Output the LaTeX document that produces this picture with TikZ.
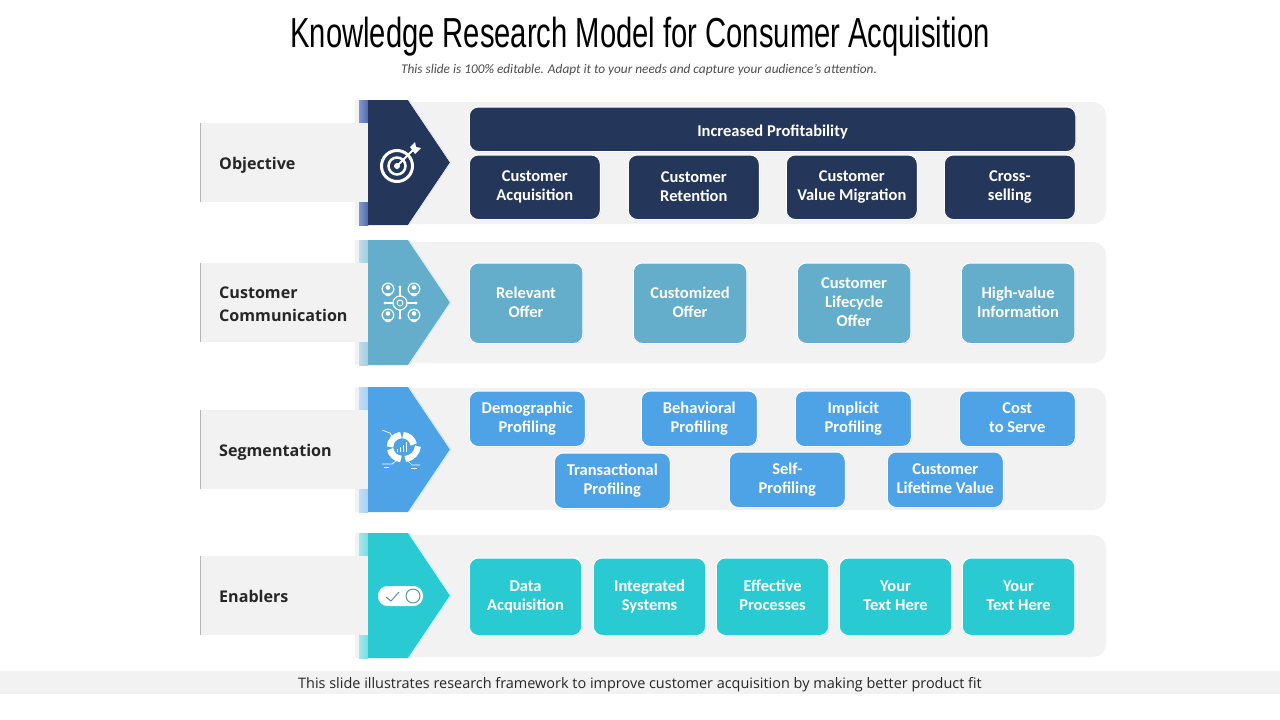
\documentclass[tikz,border=0pt]{standalone}
\usepackage{fontspec}
\setmainfont{Carlito}
\newfontfamily\titlefont[FakeStretch=0.695]{Liberation Sans}
\newfontfamily\labelfont{Open Sans}
\usetikzlibrary{positioning, shadows, arrows}
\definecolor{navyc}{HTML}{243659}
\definecolor{tealc}{HTML}{65AECB}
\definecolor{bluec}{HTML}{4DA3E6}
\definecolor{cyanc}{HTML}{2ACAD3}
\definecolor{panelc}{HTML}{F2F2F2}
\definecolor{navys}{HTML}{4D6BB0}
\definecolor{teals}{HTML}{A3CDDE}
\definecolor{blues}{HTML}{A6D0F2}
\definecolor{cyans}{HTML}{7ADDE3}
\newcommand{\boxstrut}{\rule[-2.2pt]{0pt}{19pt}}
\tikzset{
    panel/.style={fill=panelc, draw=none, rounded corners=13pt},
    tag/.style={fill=panelc, draw=none, minimum width=168pt, minimum height=79pt, anchor=north west, inner sep=0pt},
    tagtext/.style={font=\labelfont\fontsize{16.1}{23}\selectfont\bfseries, text=black!85, align=left, anchor=west, inner sep=0pt,
        execute at begin node=\strut, execute at end node=\strut},
    box/.style={draw=white, line width=1pt, rounded corners=9pt, drop shadow={opacity=.16, shadow xshift=.8pt, shadow yshift=-.8pt},
        text=white, align=center, inner sep=0pt, anchor=north west, xshift=-.7pt,
        font=\fontsize{16.5}{19}\selectfont\bfseries,
        execute at begin node=\boxstrut, execute at end node=\boxstrut},
    icon/.style={draw=white, line width=1.2pt, fill=none},
}
\newcommand{\rowarrow}[5]{% top y, fill, stripe, edge, name
    \fill[panelc] (355,#1) rectangle ++(13,125);
    \fill[left color=#3!70!white, right color=#3] (359,#1) rectangle ++(9,125);
    \node[tag] (#5tag) at (200,#1+23) {};
    \fill[panelc!75!black] (199.5,#1+23) rectangle ++(1.5,79);
    \fill[#2] (368,#1) -- (408,#1) -- (450,#1+62.5) -- (408,#1+125) -- (368,#1+125) -- cycle;
    \draw[#4, line width=1.2pt] (408.8,#1) -- (450.8,#1+62.5) -- (408.8,#1+125);
}
\begin{document}
\begin{tikzpicture}[x=1pt, y=-1pt]
    \useasboundingbox (0,0) rectangle (1280,720);
    \node[font=\titlefont\fontsize{42}{46}\selectfont, inner sep=0pt] (title) at (640,37) {Knowledge Research Model for Consumer Acquisition};
    \node[font=\itshape\fontsize{13.3}{15}\selectfont, text=black!70, inner sep=0pt] (subtitle) at (639,70) {This slide is 100\% editable. Adapt it to your needs and capture your audience's attention.};

    % panels
    \fill[panel] (355,102) rectangle (1106,224);
    \fill[panel] (355,242) rectangle (1106,363);
    \fill[panel] (355,388) rectangle (1106,510);
    \fill[panel] (355,535) rectangle (1106,657);

    \rowarrow{100}{navyc}{navys}{navyc!12!white}{obj}
    \rowarrow{240}{tealc}{teals}{tealc!25!white}{com}
    \rowarrow{387}{bluec}{blues}{bluec!25!white}{seg}
    \rowarrow{533}{cyanc}{cyans}{cyanc!25!white}{ena}

    \node[tagtext] (objective) at (219,165) {Objective};
    \node[tagtext] (communication) at (219,308) {Customer\\Communication};
    \node[tagtext] (segmentation) at (219,452) {Segmentation};
    \node[tagtext] (enablers) at (219,598) {Enablers};

    % first row
    \node[box, fill=navyc, minimum width=606.5pt, minimum height=44.5pt] (profit) at (469.5,106.5) {Increased Profitability};
    \foreach \x/\name/\txt in {469.5/acq/Customer\\Acquisition, 628.5/ret/Customer\\Retention, 786.5/mig/Customer\\Value Migration, 944.5/cross/Cross-\\selling}
        \node[box, fill=navyc, minimum width=131pt, minimum height=64.5pt] (\name) at (\x,154.5) {\txt};

    % second row
    \foreach \x/\name/\txt in {469.5/rel/Relevant\\Offer, 633.5/cus/Customized\\Offer, 797.5/life/Customer\\Lifecycle\\Offer, 961.5/high/High-value\\Information}
        \node[box, fill=tealc, minimum width=113.5pt, minimum height=80.5pt] (\name) at (\x,262.5) {\txt};

    % third row
    \foreach \x/\y/\name/\txt in {469.5/390.5/dem/Demographic\\Profiling, 641.5/390.5/beh/Behavioral\\Profiling, 795.5/390.5/imp/Implicit\\Profiling, 959.5/390.5/cost/Cost\\to Serve, 554.5/452.5/tra/Transactional\\Profiling, 729.5/451.5/self/Self-\\Profiling, 887.5/451.5/clv/Customer\\Lifetime Value}
        \node[box, fill=bluec, minimum width=116pt, minimum height=55.5pt] (\name) at (\x,\y) {\txt};

    % fourth row
    \foreach \x/\name/\txt in {469.5/data/Data\\Acquisition, 593.5/int/Integrated\\Systems, 716.5/eff/Effective\\Processes, 839.5/your/Your\\Text Here, 962.5/yourb/Your\\Text Here}
        \node[box, fill=cyanc, minimum width=112.5pt, minimum height=77.5pt] (\name) at (\x,557.5) {\txt};

    % target icon
    \draw[icon, line width=3pt] (397,166) circle (15.5);
    \draw[icon, line width=2.5pt] (397,166) circle (8.5);
    \fill[white] (397,166) circle (3);
    \draw[white, line width=1.8pt] (397,166) -- (413,150);
    \fill[white] (410,147) -- (415,142) -- (416,147) -- (421,148) -- (415,154) -- cycle;

    % people icon
    \draw[icon] (400,303) circle (7);
    \draw[icon, line width=.9pt] (400,303) circle (3);
    \foreach \x/\y in {388/289, 414/289, 388/315, 414/315} {
        \draw[icon] (\x,\y) circle (5.8);
        \fill[white] (\x,\y-1.5) circle (2.3);
        \fill[white] (\x-3.6,\y+4.2) arc (180:0:3.6 and 3.2) -- cycle;
    }
    \draw[white, line width=1.2pt] (400,287) -- (400,296) (400,310) -- (400,318) (385,303) -- (393,303) (407,303) -- (416,303);
    \foreach \x/\y in {400/287, 400/318, 385/303, 416/303} \fill[white] (\x,\y) circle (1.6);

    % chart icon
    \draw[white, line width=6pt] (404,445) ++(85:14) arc (85:5:14);
    \draw[white, line width=6.5pt] (402,447) ++(-12:12) arc (-12:-85:12);
    \draw[white, line width=6.5pt] (402,447) ++(-95:12) arc (-95:-180:12);
    \draw[white, line width=6.5pt] (402,447) ++(-190:12) arc (-190:-265:12);
    \foreach \x/\h in {397.5/3, 400.5/5, 403.5/7, 406.5/10}
        \draw[white, line width=1.7pt] (\x,452) -- ++(0,-\h);
    \draw[white, line width=.7pt] (382,430) -- (390,433) -- (393,438) (382,464) -- (392,464) -- (397,460) (420,465) -- (412,465) -- (407,460);
    \draw[white, line width=.7pt] (384,467) -- (389,467) (411,468) -- (417,468);

    % toggle icon
    \fill[white, rounded corners=9.5pt] (378,586) rectangle (423,606);
    \draw[tealc!80!black, line width=.9pt] (386,597) -- (391,601) -- (399,592);
    \draw[tealc!80!black, line width=.9pt] (413,596) circle (7);

    % footer
    \fill[panelc] (0,671) rectangle (1280,694);
    \node[font=\labelfont\fontsize{14.45}{16}\selectfont, text=black!85, inner sep=0pt] (footer) at (640,685) {This slide illustrates research framework to improve customer acquisition by making better product fit};
\end{tikzpicture}
\end{document}
